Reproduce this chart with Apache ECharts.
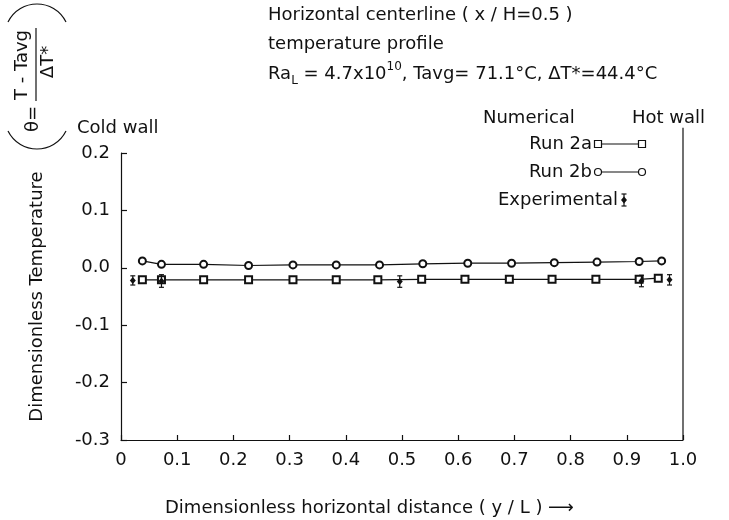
<!DOCTYPE html>
<html>
<head>
<meta charset="utf-8">
<script src="https://cdn.jsdelivr.net/npm/echarts@6/dist/echarts.min.js"></script>
<style>
html, body { margin: 0; padding: 0; background: #fff; }
#box { width: 729px; height: 520px; }
</style>
</head>
<body>
<div id="box"></div>
<script>
// Run 2b (numerical, circles)
const run2bX = [0.038, 0.072, 0.147, 0.227, 0.306, 0.383, 0.460, 0.537, 0.617, 0.695, 0.771, 0.847, 0.922, 0.962]
const run2bY = [0.012, 0.006, 0.006, 0.004, 0.005, 0.005, 0.005, 0.007, 0.008, 0.008, 0.009, 0.010, 0.011, 0.012]
// Run 2a (numerical, squares)
const run2aX = [0.038, 0.072, 0.147, 0.227, 0.306, 0.383, 0.457, 0.535, 0.612, 0.691, 0.767, 0.845, 0.922, 0.956]
const run2aY = [-0.021, -0.021, -0.021, -0.021, -0.021, -0.021, -0.021, -0.020, -0.020, -0.020, -0.020, -0.020, -0.020, -0.018]
// experimental points with error bars
const expX = [0.021, 0.072, 0.496, 0.926, 0.976]
const expY = [-0.022, -0.023, -0.024, -0.023, -0.021]
const expErr = [0.008, 0.011, 0.010, 0.010, 0.009]
// hot wall line
const hotWallX = [1.0, 1.0]
const hotWallY = [-0.3, 0.244]
// tick labels
const xTickLabels = ["0", "0.1", "0.2", "0.3", "0.4", "0.5", "0.6", "0.7", "0.8", "0.9", "1.0"]
const yTickLabels = ["-0.3", "-0.2", "-0.1", "0.0", "0.1", "0.2"]

const FONT = "DejaVu Sans"
const INK = "#111"

let myCharts = echarts.init(document.getElementById("box"))

function txt(x, y, text, opt) {
	return {
		type: "text", x: x, y: y,
		style: Object.assign({ text: text, fill: INK, font: "18px '" + FONT + "'", verticalAlign: "middle" }, opt || {}),
	}
}
function rtxt(x, y, text) {
	let t = txt(x, y, text, { align: "center" })
	t.rotation = Math.PI / 2 //逆时针转90度
	return t
}
const ln = { stroke: INK, lineWidth: 1.2 }

let graphics = [
	// title block
	txt(268, 15, "Horizontal centerline ( x / H=0.5 )"),
	txt(268, 44, "temperature profile"),
	{
		type: "text", x: 268, y: 74,
		style: {
			text: "{n|Ra}{sub|L}{n| = 4.7x10}{sup|10}{n|, Tavg= 71.1°C, ΔT*=44.4°C}",
			verticalAlign: "middle",
			rich: {
				n: { fontFamily: FONT, fontSize: 18, fill: INK, lineHeight: 26, verticalAlign: "middle" },
				sub: { fontFamily: FONT, fontSize: 12, fill: INK, lineHeight: 26, verticalAlign: "bottom" },
				sup: { fontFamily: FONT, fontSize: 12, fill: INK, lineHeight: 26, verticalAlign: "top" },
			},
		},
	},
	// walls
	txt(77, 128, "Cold wall"),
	txt(632, 118, "Hot wall"),
	// legend
	txt(483, 118, "Numerical"),
	txt(592, 144, "Run 2a", { align: "right" }),
	{ type: "line", shape: { x1: 598, y1: 144, x2: 641, y2: 144 }, style: ln },
	{ type: "rect", shape: { x: 594.5, y: 140.5, width: 7, height: 7 }, style: { fill: "#fff", stroke: INK, lineWidth: 1.2 } },
	{ type: "rect", shape: { x: 638.5, y: 140.5, width: 7, height: 7 }, style: { fill: "#fff", stroke: INK, lineWidth: 1.2 } },
	txt(592, 172, "Run 2b", { align: "right" }),
	{ type: "line", shape: { x1: 598, y1: 172, x2: 641, y2: 172 }, style: ln },
	{ type: "circle", shape: { cx: 598, cy: 172, r: 3.5 }, style: { fill: "#fff", stroke: INK, lineWidth: 1.2 } },
	{ type: "circle", shape: { cx: 642, cy: 172, r: 3.5 }, style: { fill: "#fff", stroke: INK, lineWidth: 1.2 } },
	txt(618, 200, "Experimental", { align: "right" }),
	{ type: "line", shape: { x1: 624, y1: 194, x2: 624, y2: 206 }, style: ln },
	{ type: "line", shape: { x1: 621.5, y1: 194, x2: 626.5, y2: 194 }, style: ln },
	{ type: "line", shape: { x1: 621.5, y1: 206, x2: 626.5, y2: 206 }, style: ln },
	{ type: "polygon", shape: { points: [[624, 196.5], [627, 200], [624, 203.5], [621, 200]] }, style: { fill: INK } },
	// theta = (T - Tavg) / dT*, rotated, with big parentheses
	{ type: "bezierCurve", shape: { x1: 8, y1: 22, x2: 66, y2: 22, cpx1: 20, cpy1: -2, cpx2: 54, cpy2: -2 }, style: { stroke: INK, lineWidth: 1.2, fill: null } },
	{ type: "bezierCurve", shape: { x1: 8, y1: 131, x2: 66, y2: 131, cpx1: 20, cpy1: 155, cpx2: 54, cpy2: 155 }, style: { stroke: INK, lineWidth: 1.2, fill: null } },
	{ type: "line", shape: { x1: 36, y1: 28, x2: 36, y2: 101 }, style: ln },
	rtxt(22, 65, "T - Tavg"),
	rtxt(48, 62, "ΔT*"),
	rtxt(33, 119, "θ="),
	// x axis name
	txt(165, 508, "Dimensionless horizontal distance ( y / L ) ⟶"),
]

let option = {
	backgroundColor: "#fff",
	animation: false,
	grid: { left: 121, right: 46, top: 153, bottom: 80 },
	xAxis: {
		type: "value", min: 0, max: 1, interval: 0.1,
		axisLine: { onZero: false, lineStyle: { color: INK, width: 1.2 } },
		axisTick: { inside: true, length: 5, lineStyle: { color: INK, width: 1.2 } },
		axisLabel: {
			margin: 11, fontSize: 18, fontFamily: FONT, color: INK,
			formatter: function (v) { return xTickLabels[Math.round(v * 10)] },
		},
		splitLine: { show: false },
	},
	yAxis: {
		type: "value", min: -0.3, max: 0.2, interval: 0.1,
		name: "Dimensionless Temperature", nameLocation: "middle", nameGap: 75,
		nameTextStyle: { fontSize: 18, fontFamily: FONT, color: INK },
		axisLine: { show: true, onZero: false, lineStyle: { color: INK, width: 1.2 } },
		axisTick: { show: true, inside: true, length: 6, lineStyle: { color: INK, width: 1.2 } },
		axisLabel: {
			margin: 11, fontSize: 18, fontFamily: FONT, color: INK,
			formatter: function (v) { return yTickLabels[Math.round(v * 10) + 3] },
		},
		splitLine: { show: false },
	},
	series: [
		{
			name: "Hot wall", type: "line", silent: true, clip: false, symbol: "none",
			data: hotWallX.map((x, i) => [x, hotWallY[i]]),
			lineStyle: { color: INK, width: 1.2 },
		},
		{
			name: "Run 2a", type: "line", symbol: "emptyRect", symbolSize: 7,
			data: run2aX.map((x, i) => [x, run2aY[i]]),
			lineStyle: { color: INK, width: 1.2 },
			itemStyle: { color: INK, borderWidth: 1.2 },
		},
		{
			name: "Run 2b", type: "line", symbol: "emptyCircle", symbolSize: 7,
			data: run2bX.map((x, i) => [x, run2bY[i]]),
			lineStyle: { color: INK, width: 1.2 },
			itemStyle: { color: INK, borderWidth: 1.2 },
		},
		{
			name: "Experimental", type: "custom", z: 5,
			data: expX.map((x, i) => [x, expY[i], expErr[i]]),
			renderItem: function (params, api) {
				let x = api.value(0), y = api.value(1), e = api.value(2)
				let c = api.coord([x, y]), t = api.coord([x, y + e]), b = api.coord([x, y - e])
				return {
					type: "group",
					children: [
						{ type: "line", shape: { x1: t[0], y1: t[1], x2: b[0], y2: b[1] }, style: ln },
						{ type: "line", shape: { x1: t[0] - 2.5, y1: t[1], x2: t[0] + 2.5, y2: t[1] }, style: ln },
						{ type: "line", shape: { x1: b[0] - 2.5, y1: b[1], x2: b[0] + 2.5, y2: b[1] }, style: ln },
						{ type: "polygon", shape: { points: [[c[0], c[1] - 3.5], [c[0] + 3, c[1]], [c[0], c[1] + 3.5], [c[0] - 3, c[1]]] }, style: { fill: INK } },
					],
				}
			},
		},
	],
	graphic: graphics,
}
myCharts.setOption(option)
</script>
</body>
</html>
